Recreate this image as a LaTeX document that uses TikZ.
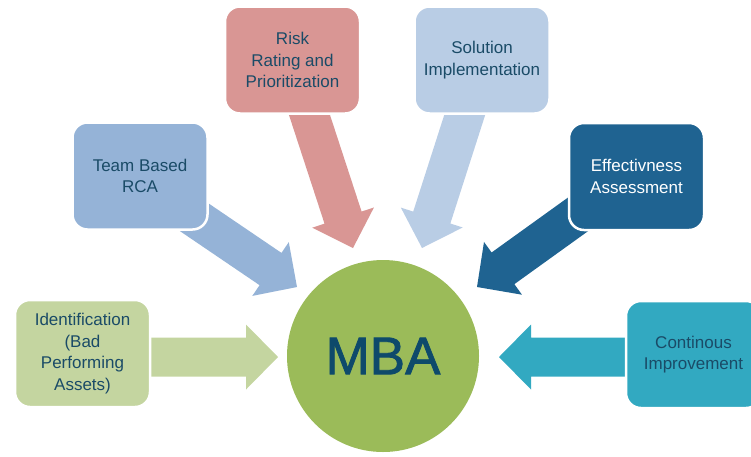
\documentclass[tikz,border=0pt]{standalone}
\usepackage{fontspec}
\setmainfont{Liberation Sans}
\newfontfamily\mbafont[FakeBold=1.5]{Liberation Sans}
\usetikzlibrary{calc}

\definecolor{txtblue}{HTML}{1A4B67}
\definecolor{mbatxt}{HTML}{0E4A6B}
\definecolor{mbagreen}{HTML}{9BBB59}
\definecolor{idgreen}{HTML}{C4D5A0}
\definecolor{teamblue}{HTML}{95B3D7}
\definecolor{riskred}{HTML}{D99694}
\definecolor{solblue}{HTML}{B9CDE5}
\definecolor{effblue}{HTML}{1F6391}
\definecolor{contteal}{HTML}{32A9C1}

% block arrow: colour, tail, tip
\newcommand{\blockarrow}[3]{%
  \coordinate (hb) at ($(#3)!32pt!(#2)$);
  \fill[#1] ($(#2)!19.5pt!90:(#3)$) -- ($(hb)!19.5pt!-90:(#2)$)
    -- ($(hb)!32.5pt!-90:(#2)$) -- (#3) -- ($(hb)!32.5pt!90:(#2)$)
    -- ($(hb)!19.5pt!90:(#2)$) -- ($(#2)!19.5pt!-90:(#3)$) -- cycle;
}

\begin{document}
\begin{tikzpicture}[x=1pt, y=-1pt, font=\fontsize{17}{21.5}\selectfont,
  every node/.style={align=center, text=txtblue},
  box/.style={draw=white, line width=2.5pt, rounded corners=15pt,
    minimum width=135pt, minimum height=107pt, inner sep=2pt}]
  \useasboundingbox (0,0) rectangle (751,456);
  \clip (0,0) rectangle (751,456);

  \coordinate (identT) at (120,357);  \coordinate (identH) at (278,357);
  \coordinate (teamT) at (160,194);   \coordinate (teamH) at (297,287);
  \coordinate (riskT) at (300,86);    \coordinate (riskH) at (353,248);
  \coordinate (solT) at (474,86);     \coordinate (solH) at (422,248);
  \coordinate (effT) at (591,205);    \coordinate (effH) at (477,287);
  \coordinate (contT) at (660,357);   \coordinate (contH) at (499,357);

  \blockarrow{idgreen}{identT}{identH}
  \blockarrow{teamblue}{teamT}{teamH}
  \blockarrow{riskred}{riskT}{riskH}
  \blockarrow{solblue}{solT}{solH}
  \blockarrow{effblue}{effT}{effH}
  \blockarrow{contteal}{contT}{contH}

  \node[circle, fill=mbagreen, minimum size=192pt, inner sep=0pt,
    text=mbatxt, font=\mbafont\fontsize{53}{60}\selectfont] (mba) at (383,356) {MBA};

  \node[box, fill=idgreen] (ident) at (82.5,353.5)
    {Identification\\(Bad\\Performing\\Assets)};
  \node[box, fill=teamblue] (team) at (140,176) {Team Based\\RCA};
  \node[box, fill=riskred] (risk) at (292.5,60)
    {Risk\\Rating and\\Prioritization};
  \node[box, fill=solblue] (sol) at (482,60) {Solution\\Implementation};
  \node[box, fill=effblue, text=white] (eff) at (636.5,176.5)
    {Effectivness\\Assessment};
  \node[box, fill=contteal] (cont) at (693.5,354.5) {Continous\\Improvement};
\end{tikzpicture}
\end{document}
